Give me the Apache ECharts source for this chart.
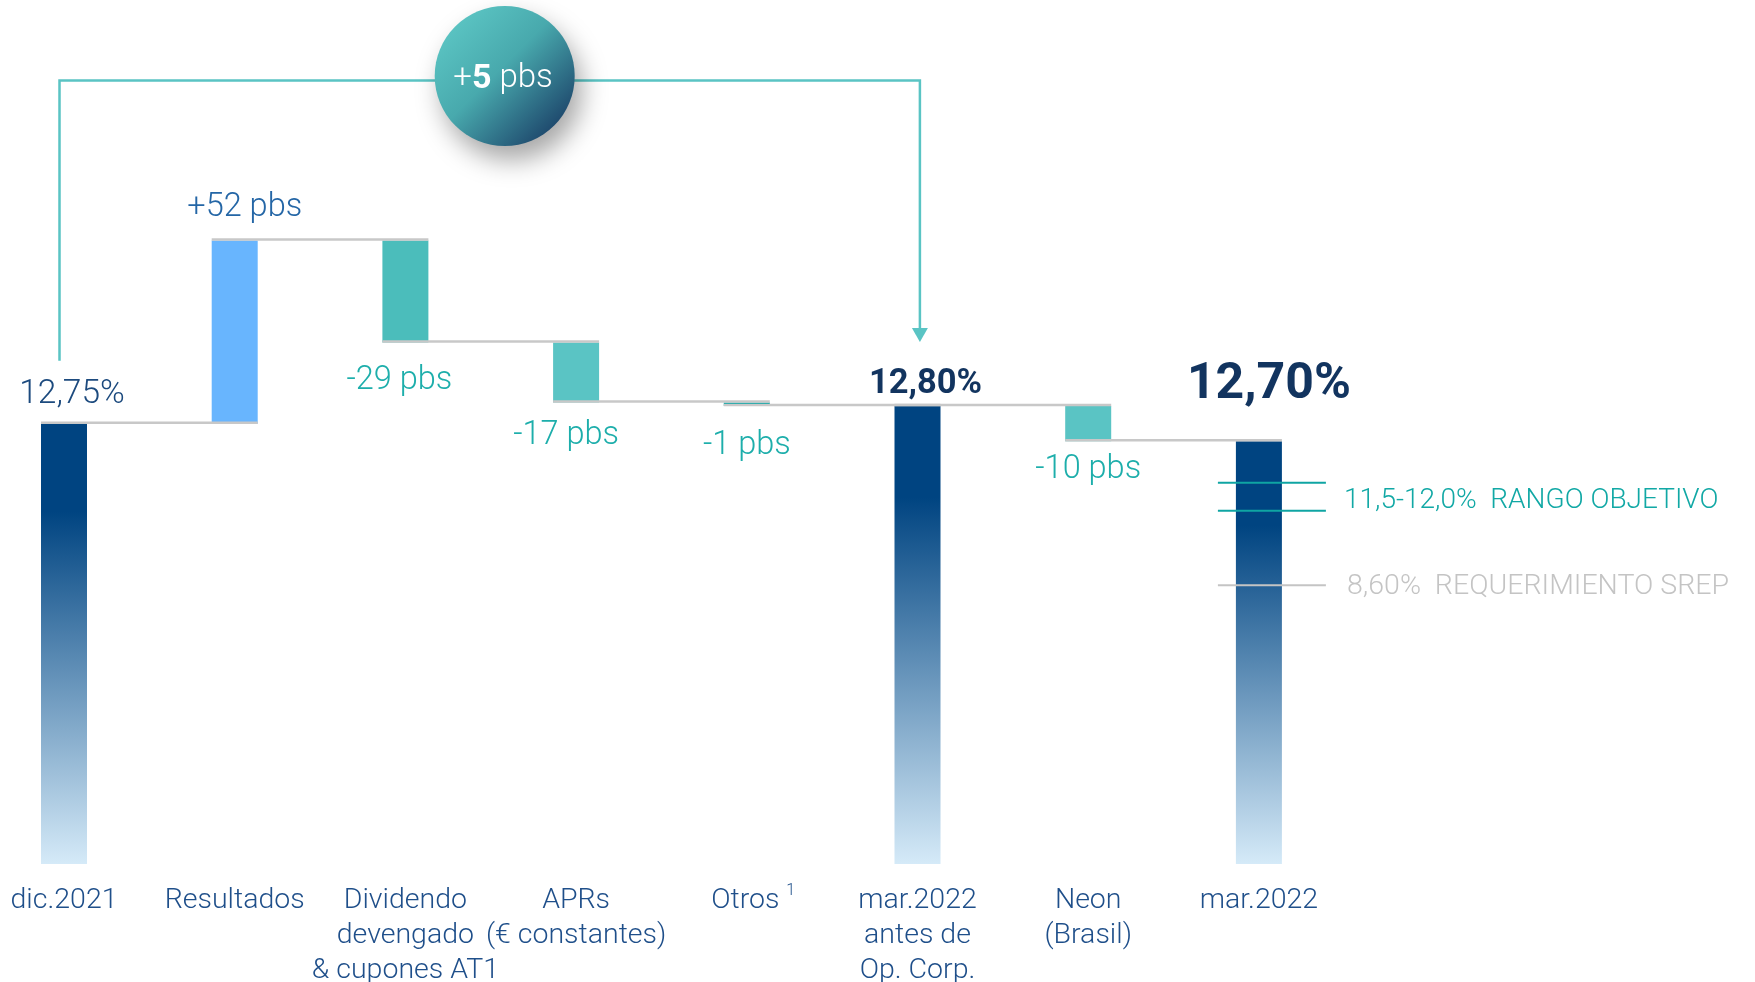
<!DOCTYPE html>
<html>
<head>
<meta charset="utf-8">
<script src="https://cdn.jsdelivr.net/npm/echarts@6/dist/echarts.min.js"></script>
<style>
  html, body { margin: 0; padding: 0; background: #ffffff; }
  #main { width: 1755px; height: 982px; }
</style>
</head>
<body>
<div id="main"></div>
<script>
// CET1 fully loaded: evolución dic.2021 -> mar.2022

const categories = [
  'dic.2021',
  'Resultados',
  'Dividendo\ndevengado\n& cupones AT1',
  'APRs\n(€ constantes)',
  'Otros',
  'mar.2022\nantes de\nOp. Corp.',
  'Neon\n(Brasil)',
  'mar.2022'
];
const footnoteMarks = ['', '', '', '', '1', '', '', ''];

// Ratio levels (%) for the stock bars, movements in basis points for the rest
const totalRatios = [12.75, null, null, null, null, 12.80, null, 12.70];
const changesPbs  = [null, 52, -29, -17, -1, null, -10, null];

// Change of the quarter before corporate operations (pbs)
const quarterChangePbs = 5;

// Reference levels shown next to the final bar
const targetRange = [11.5, 12.0];
const targetRangeLabel = 'RANGO OBJETIVO';
const srepRequirement = 8.60;
const srepLabel = 'REQUERIMIENTO SREP';

// Visible value window of the (broken) ratio axis
const axisFloor = 11.5;
const axisCeil = 13.9;

// ---------- styling ----------
const FONT = 'Roboto';
const BAR_W = 46;
const NAVY = '#004481';
const TEAL_TXT = '#1DAEAB';
const barColors = [null, '#68B5FE', '#4BBDBB', '#5AC4C4', '#02A5A5', null, '#5AC4C4', null];
const labelStyles = [
  { side: 'top',    dx: 8,   dy: -29, size: 33.5, weight: 300,    color: '#1C4A7E' },
  { side: 'top',    dx: 10,  dy: -33, size: 32.5, weight: 300,    color: '#2466A6' },
  { side: 'bottom', dx: -6,  dy: 38,  size: 32.5, weight: 300,    color: TEAL_TXT },
  { side: 'bottom', dx: -10, dy: 33,  size: 32.5, weight: 300,    color: TEAL_TXT },
  { side: 'bottom', dx: 0,   dy: 40,  size: 32.5, weight: 300,    color: TEAL_TXT },
  { side: 'top',    dx: 8,   dy: -22, size: 34.5, weight: 'bold', color: '#12345F' },
  { side: 'bottom', dx: 0,   dy: 29,  size: 32.5, weight: 300,    color: TEAL_TXT },
  { side: 'top',    dx: 10,  dy: -56, size: 50,   weight: 'bold', color: '#12345F' }
];

const fmtDec = (v, d) => v.toFixed(d).replace('.', ',');
const fmtPct = v => fmtDec(v, 2) + '%';
const fmtPbs = p => (p > 0 ? '+' : '') + p + ' pbs';

// ---------- waterfall geometry from the values ----------
const barRows = [];   // [index, low, high]
const stepRows = [];  // [index, level reached after the bar]
let level = null;
categories.forEach((_, i) => {
  if (totalRatios[i] != null) {
    level = totalRatios[i];
    barRows.push([i, axisFloor, level]);
  } else {
    const start = level;
    level = Math.round((start + changesPbs[i] / 100) * 10000) / 10000;
    barRows.push([i, Math.min(start, level), Math.max(start, level)]);
  }
  stepRows.push([i, level]);
});
stepRows.pop(); // last bar has no follower

const labelText = i => totalRatios[i] != null ? fmtPct(totalRatios[i]) : fmtPbs(changesPbs[i]);

function totalGradient() {
  return new echarts.graphic.LinearGradient(0, 0, 0, 1, [
    { offset: 0, color: NAVY },
    { offset: 0.2, color: NAVY },
    { offset: 1, color: '#D5EAF8' }
  ]);
}

function renderBar(params, api) {
  const i = api.value(0);
  const lo = api.coord([i, api.value(1)]);
  const hi = api.coord([i, api.value(2)]);
  const cx = lo[0];
  const L = labelStyles[i];
  const anchorY = L.side === 'top' ? hi[1] : lo[1];
  return {
    type: 'group',
    children: [
      {
        type: 'rect',
        shape: { x: cx - BAR_W / 2, y: hi[1], width: BAR_W, height: Math.max(lo[1] - hi[1], 1) },
        style: { fill: totalRatios[i] != null ? totalGradient() : barColors[i] }
      },
      {
        type: 'text',
        x: cx + L.dx,
        y: anchorY + L.dy,
        style: {
          text: labelText(i),
          fill: L.color,
          fontFamily: FONT,
          fontSize: L.size,
          fontWeight: L.weight,
          align: 'center',
          verticalAlign: 'middle'
        }
      }
    ]
  };
}

function renderStep(params, api) {
  const i = api.value(0);
  const v = api.value(1);
  const a = api.coord([i, v]);
  const b = api.coord([i + 1, v]);
  return {
    type: 'line',
    shape: { x1: a[0] - BAR_W / 2, y1: a[1] - 1, x2: b[0] + BAR_W / 2, y2: b[1] - 1 },
    style: { stroke: '#C8C8C8', lineWidth: 2.5 }
  };
}

const chart = echarts.init(document.getElementById('main'));

chart.setOption({
  animation: false,
  backgroundColor: '#ffffff',
  grid: { left: 64, right: 496.1, top: 18.5, bottom: 118, containLabel: false, outerBoundsMode: 'none' },
  xAxis: {
    type: 'category',
    data: categories,
    boundaryGap: false,
    axisLine: { show: false },
    axisTick: { show: false },
    splitLine: { show: false },
    axisLabel: {
      interval: 0,
      margin: 19,
      color: '#1F4F8A',
      fontFamily: FONT,
      fontWeight: 300,
      fontSize: 28.5,
      lineHeight: 35,
      // a transparent twin of the footnote mark keeps the word itself centred
      formatter: (v, i) => footnoteMarks[i]
        ? '{pad|' + footnoteMarks[i] + ' }' + v + ' {sup|' + footnoteMarks[i] + '}'
        : v,
      rich: {
        sup: { fontFamily: FONT, fontWeight: 300, fontSize: 16, lineHeight: 20, verticalAlign: 'top', color: '#1F4F8A' },
        pad: { fontFamily: FONT, fontWeight: 300, fontSize: 16, lineHeight: 20, verticalAlign: 'top', color: 'rgba(0,0,0,0)' }
      }
    }
  },
  yAxis: {
    type: 'value',
    min: axisFloor,
    max: axisCeil,
    show: false,
    splitLine: { show: false }
  },
  series: [
    {
      type: 'custom',
      name: 'barras',
      renderItem: renderBar,
      encode: { x: 0, y: [1, 2] },
      data: barRows,
      z: 2
    },
    {
      type: 'custom',
      name: 'conectores',
      renderItem: renderStep,
      encode: { x: 0, y: 1 },
      data: stepRows,
      z: 3
    }
  ]
});

// ---------- annotations: quarter bracket and reference levels ----------
const pStart = chart.convertToPixel({ gridIndex: 0 }, [0, totalRatios[0]]);
const pPre = chart.convertToPixel({ gridIndex: 0 }, [5, totalRatios[5]]);
const pEnd = chart.convertToPixel({ gridIndex: 0 }, [7, totalRatios[7]]);

const BRACKET = '#5AC4C4';
const bracketTop = 80.5;
const leftX = pStart[0] - 4.5;
const rightX = pPre[0] + 2.4;
const arrowTip = pPre[1] - 64;

const refX1 = pEnd[0] - 41;
const refX2 = pEnd[0] + 67;

chart.setOption({
  graphic: [
    {
      type: 'polyline',
      z: 10,
      shape: { points: [[leftX, pStart[1] - 63], [leftX, bracketTop], [rightX, bracketTop], [rightX, arrowTip - 13]] },
      style: { stroke: BRACKET, lineWidth: 2.5, fill: null }
    },
    {
      type: 'polygon',
      z: 10,
      shape: { points: [[rightX - 8, arrowTip - 14], [rightX + 8, arrowTip - 14], [rightX, arrowTip]] },
      style: { fill: BRACKET }
    },
    {
      type: 'circle',
      z: 11,
      shape: { cx: 504.7, cy: 76, r: 70 },
      style: {
        fill: new echarts.graphic.LinearGradient(0.1, 0.1, 0.9, 0.9, [
          { offset: 0, color: '#5CC6C4' },
          { offset: 0.45, color: '#48A9AD' },
          { offset: 1, color: '#1B4168' }
        ]),
        shadowBlur: 26,
        shadowColor: 'rgba(0,0,0,0.35)',
        shadowOffsetX: 7,
        shadowOffsetY: 14
      }
    },
    {
      type: 'text',
      z: 12,
      x: 503,
      y: 79,
      style: {
        text: '{a|+}{b|' + quarterChangePbs + '}{a| pbs}',
        align: 'center',
        verticalAlign: 'middle',
        rich: {
          a: { fontFamily: FONT, fontWeight: 300, fontSize: 33, fill: '#ffffff' },
          b: { fontFamily: FONT, fontWeight: 'bold', fontSize: 34, fill: '#ffffff' }
        }
      }
    },
    {
      type: 'line', z: 12,
      shape: { x1: refX1, y1: 482.7, x2: refX2, y2: 482.7 },
      style: { stroke: '#0FA5A3', lineWidth: 2 }
    },
    {
      type: 'line', z: 12,
      shape: { x1: refX1, y1: 510.7, x2: refX2, y2: 510.7 },
      style: { stroke: '#0FA5A3', lineWidth: 2 }
    },
    {
      type: 'line', z: 12,
      shape: { x1: refX1, y1: 585.3, x2: refX2, y2: 585.3 },
      style: { stroke: '#C4C4C4', lineWidth: 2 }
    },
    {
      type: 'text', z: 12,
      x: 1344, y: 500.5,
      style: {
        text: fmtDec(targetRange[0], 1) + '-' + fmtDec(targetRange[1], 1) + '%  ' + targetRangeLabel,
        fill: '#11A8A5', fontFamily: FONT, fontWeight: 300, fontSize: 28,
        align: 'left', verticalAlign: 'middle'
      }
    },
    {
      type: 'text', z: 12,
      x: 1347, y: 586.5,
      style: {
        text: fmtDec(srepRequirement, 2) + '%  ' + srepLabel,
        fill: '#C4C4C4', fontFamily: FONT, fontWeight: 300, fontSize: 28.5,
        align: 'left', verticalAlign: 'middle'
      }
    }
  ]
});
</script>
</body>
</html>
